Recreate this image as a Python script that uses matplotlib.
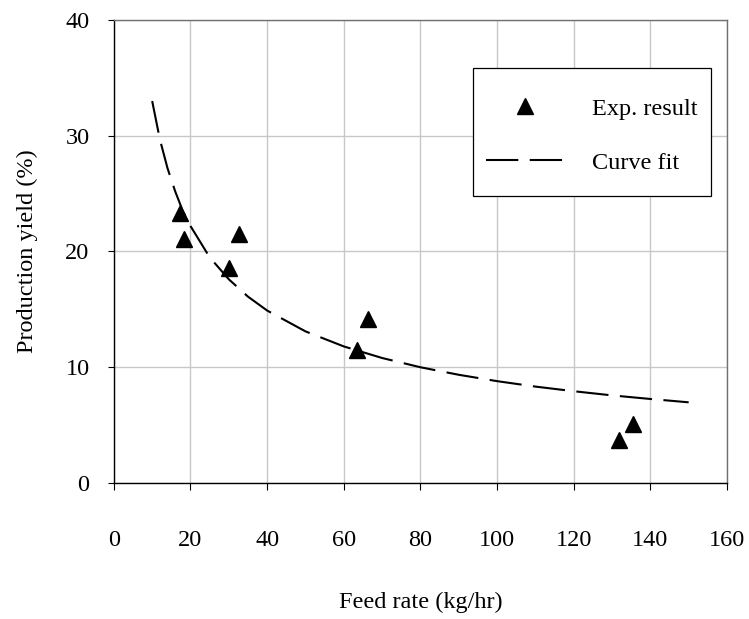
import matplotlib
matplotlib.use('Agg')
import matplotlib.pyplot as plt
from matplotlib.patches import Rectangle

# experimental points (feed rate kg/hr, yield %)
exp_feed = [17.2, 18.3, 30.0, 32.7, 63.4, 66.2, 131.7, 135.6]
exp_yield = [23.3, 21.1, 18.6, 21.5, 11.5, 14.2, 3.7, 5.1]

# curve fit
fit_feed = [10, 12, 14, 16, 18, 20, 25, 30, 35, 40, 50, 60, 70, 80, 90,
            100, 110, 120, 130, 140, 150]
fit_yield = [33.0, 29.7, 27.2, 25.2, 23.5, 22.2, 19.5, 17.6, 16.1, 14.9, 13.1,
             11.8, 10.8, 10.0, 9.35, 8.8, 8.33, 7.93, 7.57, 7.26, 6.97]

x_ticks = [0, 20, 40, 60, 80, 100, 120, 140, 160]
y_ticks = [0, 10, 20, 30, 40]

plt.rcParams['font.family'] = ['Liberation Serif', 'DejaVu Serif']
plt.rcParams['font.size'] = 17.5

fig = plt.figure(figsize=(7.49, 6.19), dpi=100)
ax = fig.add_axes([0.152, 0.2197, 0.8186, 0.748])

ax.plot(exp_feed, exp_yield, linestyle='none', marker='^', ms=12,
        color='black', label='Exp. result', zorder=3)
ax.plot(fit_feed, fit_yield, color='black', lw=1.5, dashes=(15.5, 5.5),
        label='Curve fit', zorder=2)

ax.set_xlim(0, 160)
ax.set_ylim(0, 40)
ax.set_xticks(x_ticks)
ax.set_yticks(y_ticks)
ax.grid(True, color='#c8c8c8', lw=1.0)
ax.set_axisbelow(True)

ax.tick_params(axis='x', direction='out', length=5, width=0.8, pad=29,
               top=False)
ax.tick_params(axis='y', direction='out', length=4.5, width=0.8, pad=13,
               right=False)

for side in ['left', 'bottom']:
    ax.spines[side].set_color('black')
    ax.spines[side].set_linewidth(1.0)
for side in ['top', 'right']:
    ax.spines[side].set_color('#707070')
    ax.spines[side].set_linewidth(1.0)

ax.set_xlabel('Feed rate (kg/hr)')
ax.set_ylabel('Production yield (%)')
ax.xaxis.set_label_coords(0.5, -0.234)
ax.yaxis.set_label_coords(-0.124, 0.5)

# legend box drawn separately so the padding can be wider vertically
box = Rectangle((0.586, 0.62), 0.388, 0.276, transform=ax.transAxes,
                facecolor='white', edgecolor='black', lw=0.9, zorder=4)
ax.add_patch(box)
leg = ax.legend(loc='center', bbox_to_anchor=(0.586 + 0.388 / 2, 0.62 + 0.276 / 2 - 0.008),
                frameon=False, borderpad=0, handlelength=3.2,
                handletextpad=1.15, labelspacing=1.3, borderaxespad=0)
leg.set_zorder(5)

fig.savefig('out.png', dpi=100)
